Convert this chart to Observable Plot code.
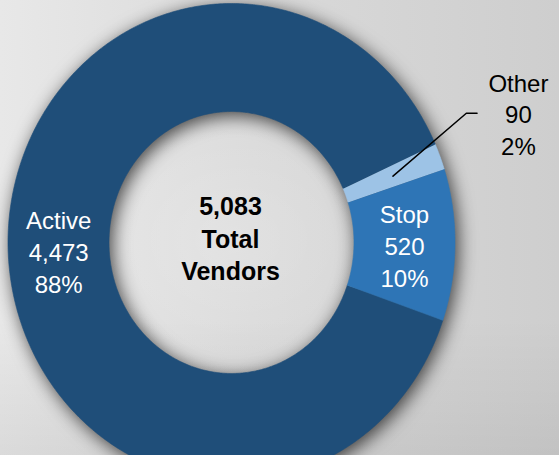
<!DOCTYPE html>
<html>
<head>
<meta charset="utf-8">
<script src="https://cdn.jsdelivr.net/npm/d3@7"></script>
<script src="https://cdn.jsdelivr.net/npm/@observablehq/plot@0.6"></script>
<style>
  html, body { margin: 0; padding: 0; }
  body {
    width: 559px; height: 455px; overflow: hidden;
    background:
      radial-gradient(ellipse 260px 200px at 230px 240px, rgba(255,255,255,0.2), rgba(255,255,255,0) 70%),
      linear-gradient(180deg, rgba(0,0,0,0) 70%, rgba(0,0,0,0.06) 100%),
      linear-gradient(90deg, #e8e8e8 0%, #dadada 45%, #cecece 100%);
    font-family: "Liberation Sans", Arial, sans-serif;
  }
  #chart svg { display: block; background: transparent; }
</style>
</head>
<body>
<div id="chart"></div>
<script>
// ---- data ----
const categories = ["Active", "Other", "Stop"];
const values = [4473, 90, 520];
const colors = ["#1F4E79", "#9DC3E6", "#2E75B6"];
const centerLines = ["Total", "Vendors"];

// ---- derived ----
const total = d3.sum(values);
const fmt = d3.format(",");
const rOuter = 1, rInner = 0.548, rMid = (rOuter + rInner) / 2;
const start = 109 * Math.PI / 180;
const pie = d3.pie().sort(null).value(d => d.value)
  .startAngle(start).endAngle(start + 2 * Math.PI);
const table = categories.map((c, i) => ({category: c, value: values[i]}));
const arcs = pie(table);

const pt = (a, r) => ({x: r * Math.sin(a), y: r * Math.cos(a)});
const polys = [];
arcs.forEach(a => {
  const n = Math.max(8, Math.ceil((a.endAngle - a.startAngle) / 0.01));
  for (let k = 0; k <= n; k++) {
    const t = a.startAngle + (a.endAngle - a.startAngle) * k / n;
    polys.push({category: a.data.category, ...pt(t, rOuter)});
  }
  for (let k = n; k >= 0; k--) {
    const t = a.startAngle + (a.endAngle - a.startAngle) * k / n;
    polys.push({category: a.data.category, ...pt(t, rInner)});
  }
});

const labels = arcs.map(a => {
  const mid = (a.startAngle + a.endAngle) / 2;
  const outside = a.data.value / total < 0.05;
  const p = outside ? pt(mid - 0.032, 1.393) : pt(mid, rMid);
  return {
    ...p,
    outside,
    mid,
    text: `${a.data.category}\n${fmt(a.data.value)}\n${Math.round(a.data.value / total * 100)}%`
  };
});

const leaders = [];
labels.filter(l => l.outside).forEach((l, i) => {
  const s = pt(l.mid, rMid);
  leaders.push({id: i, x: s.x, y: s.y});
  leaders.push({id: i, x: l.x - 0.233, y: l.y});
  leaders.push({id: i, x: l.x - 0.185, y: l.y});
});

const cx = 231, cy = 242, rx = 223.5, ry = 239;

const plot = Plot.plot({
  width: 559,
  height: 455,
  margin: 0,
  x: {domain: [-1, 1], range: [cx - rx, cx + rx], axis: null},
  y: {domain: [-1, 1], range: [cy + ry, cy - ry], axis: null},
  color: {domain: categories, range: colors},
  style: {background: "transparent", overflow: "visible"},
  marks: [
    Plot.line(polys, {x: "x", y: "y", z: "category", fill: "category", stroke: "category", strokeWidth: 0.6, curve: "linear"}),
    Plot.line(leaders, {x: "x", y: "y", z: "id", stroke: "black", strokeWidth: 1.5}),
    Plot.text(labels, {
      x: "x", y: "y", text: "text",
      fill: d => d.outside ? "#000000" : "#ffffff",
      fontSize: 24, lineHeight: 1.33,
      fontFamily: "Liberation Sans, Arial, sans-serif",
      textAnchor: "middle", lineAnchor: "middle"
    }),
    Plot.text([{x: 0, y: 0, text: [fmt(total), ...centerLines].join("\n")}], {
      x: "x", y: "y", text: "text", dy: -5, dx: -1,
      fill: "#000000", fontSize: 25, fontWeight: "bold", lineHeight: 1.3,
      fontFamily: "Liberation Sans, Arial, sans-serif",
      textAnchor: "middle", lineAnchor: "middle"
    })
  ]
});

d3.select(plot).select('g[aria-label="line"]')
  .style("filter", "drop-shadow(3px 4px 9px rgba(0,0,0,0.7))");

document.getElementById("chart").appendChild(plot);
</script>
</body>
</html>
